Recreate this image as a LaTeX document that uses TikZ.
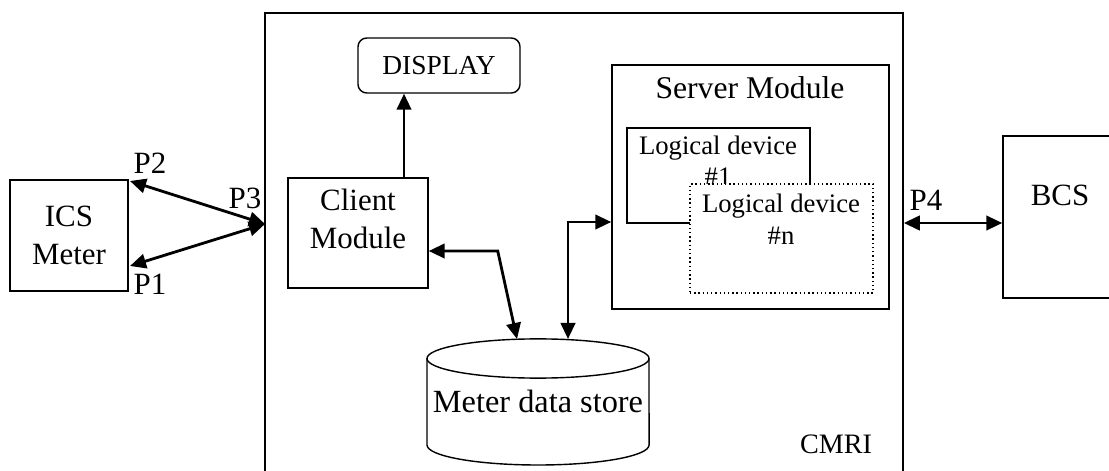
\documentclass[tikz,border=0pt]{standalone}
\usepackage{fontspec}
\setmainfont{Liberation Serif}
\usetikzlibrary{arrows.meta}

\begin{document}
\begin{tikzpicture}[x=0.025cm,y=-0.025cm,
    every node/.style={inner sep=0pt,font=\fontsize{22}{27}\selectfont},
    box/.style={draw,line width=1pt},
    link/.style={line width=2pt,{Triangle[length=0.4cm,width=0.36cm]}-{Triangle[length=0.4cm,width=0.36cm]}},
    up/.style={line width=2pt,-{Triangle[length=0.4cm,width=0.36cm]}}]
    \useasboundingbox (0,0) rectangle (1109,471);
    % outer blocks
    \node[box,minimum width=15.95cm,minimum height=12.5cm] (cmri) at (584,263) {};
    \node[box,minimum width=2.95cm,minimum height=2.775cm,align=center] (meter) at (69,235.5) {ICS\\Meter};
    \node[box,minimum width=3.175cm,minimum height=4.05cm] (bcs) at (1066.5,217) {};
    \node (bcstxt) at (1060,195) {BCS};
    \node[font=\fontsize{20}{24}\selectfont] (cmritxt) at (836,444) {CMRI};
    % inside CMRI
    \node[box,rounded corners=0.22cm,minimum width=4.05cm,minimum height=1.375cm,font=\fontsize{19.5}{23}\selectfont] (disp) at (439,65.5) {DISPLAY};
    \node[box,minimum width=3.5cm,minimum height=2.75cm] (client) at (358,233) {};
    \node[align=center] (clienttxt) at (358,219) {Client\\Module};
    \node[box,minimum width=6.925cm,minimum height=6.1cm] (srv) at (750.5,187) {};
    \node[font=\fontsize{22.5}{27}\selectfont] (srvtxt) at (750,88) {Server Module};
    \node[box,minimum width=4.575cm,minimum height=2.375cm] (ld1) at (718.5,175.5) {};
    \node[align=center,font=\fontsize{19}{22}\selectfont] (ld1txt) at (718,161) {Logical device\\\#1};
    \node[box,dotted,fill=white,minimum width=4.575cm,minimum height=2.725cm] (ldn) at (781.5,238.5) {};
    \node[align=center,font=\fontsize{19}{23}\selectfont] (ldntxt) at (781,219) {Logical device\\\#n};
    % data store
    \draw[line width=1pt] (538,358.5) ellipse [x radius=2.775cm,y radius=0.49cm];
    \draw[line width=1pt] (427,358.5) -- (427,445) arc[start angle=180,end angle=360,x radius=2.775cm,y radius=0.5cm] -- (649,358.5);
    \node[font=\fontsize{23}{27}\selectfont] (store) at (538,401) {Meter data store};
    \coordinate (st1) at (517,339);
    \coordinate (st2) at (568,339);
    % ports
    \coordinate (p2) at (130,181);
    \coordinate (p1) at (130,266);
    \coordinate (p3) at (265,224);
    \node (p2txt) at (150,163) {P2};
    \node (p1txt) at (150,284) {P1};
    \node (p3txt) at (245,198) {P3};
    \node (p4txt) at (926,200) {P4};
    % connectors
    \draw[link] (p2) -- (p3);
    \draw[link] (p1) -- (p3);
    \draw[up] ([xshift=1.15cm]client.north) -- ([xshift=1.15cm]client.north |- disp.south);
    \draw[link] ([yshift=-0.45cm]client.east) -- ++(1.725cm,0) -- (st1);
    \draw[link] (st2) |- ([yshift=-0.875cm]srv.west);
    \draw[link] ([yshift=-0.15cm]bcs.west -| cmri.east) -- ([yshift=-0.15cm]bcs.west);
\end{tikzpicture}
\end{document}
